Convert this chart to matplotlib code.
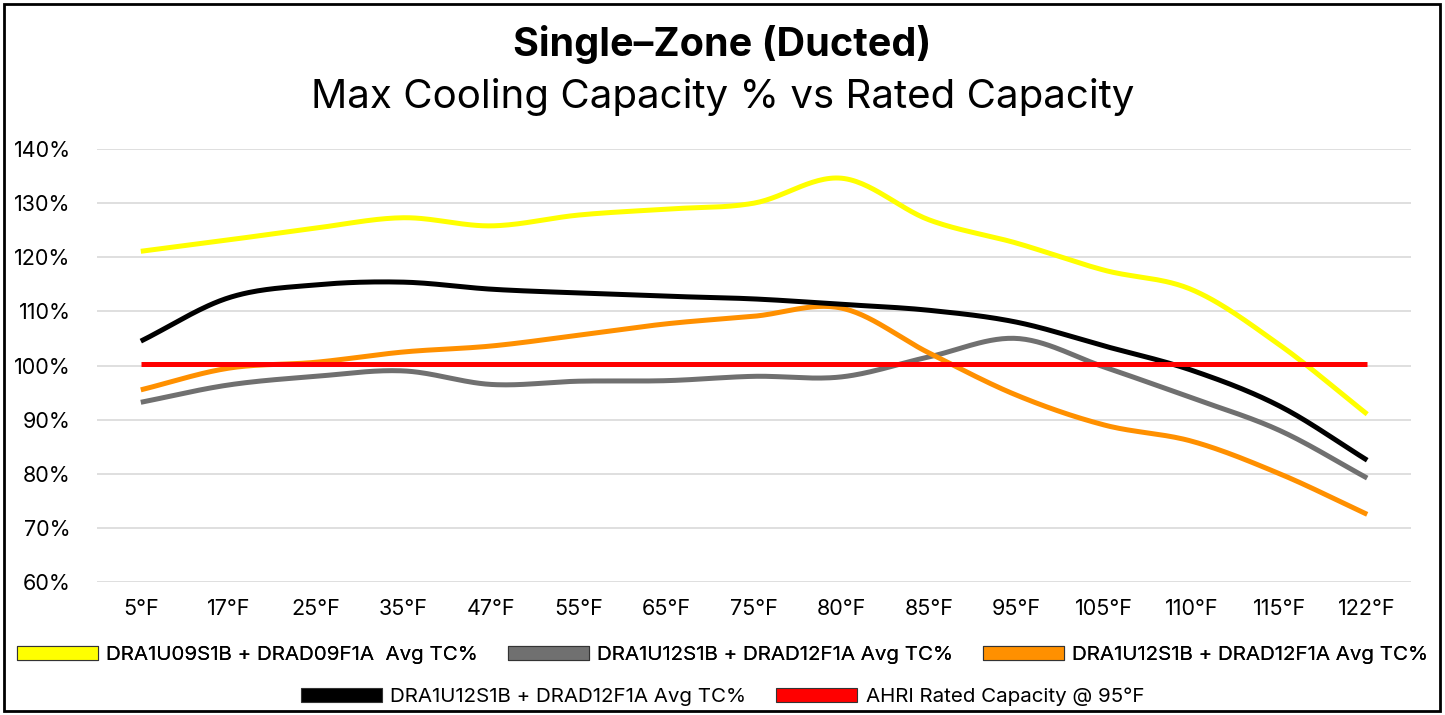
import matplotlib
matplotlib.use('Agg')
import matplotlib.pyplot as plt
import numpy as np
from matplotlib.patches import Patch, Rectangle

plt.rcParams['font.family'] = ['Inter', 'DejaVu Sans']

temps = ["5°F", "17°F", "25°F", "35°F", "47°F", "55°F", "65°F", "75°F",
         "80°F", "85°F", "95°F", "105°F", "110°F", "115°F", "122°F"]

yellow_09 = [121.1, 123.2, 125.4, 127.3, 125.8, 127.8, 128.9, 130.0,
             134.6, 126.9, 122.6, 117.6, 114.0, 103.8, 91.0]
gray_12 = [93.2, 96.4, 98.0, 99.0, 96.5, 97.1, 97.2, 98.0,
           97.9, 101.6, 105.0, 99.7, 94.0, 88.0, 79.2]
orange_12 = [95.5, 99.5, 100.6, 102.5, 103.6, 105.6, 107.7, 109.1,
             110.6, 102.3, 94.5, 89.0, 86.0, 80.0, 72.5]
black_12 = [104.5, 112.5, 114.9, 115.4, 114.1, 113.4, 112.8, 112.3,
            111.3, 110.2, 108.0, 103.6, 99.1, 92.5, 82.5]
ahri = [100.3] * len(temps)

labels = ["DRA1U09S1B + DRAD09F1A  Avg TC%",
          "DRA1U12S1B + DRAD12F1A Avg TC%",
          "DRA1U12S1B + DRAD12F1A Avg TC%",
          "DRA1U12S1B + DRAD12F1A Avg TC%",
          "AHRI Rated Capacity @ 95°F"]
colors = ["#FFFF00", "#707070", "#FF9000", "#000000", "#FF0000"]


def smooth(y, n=30):
    # catmull-rom style smoothing, like Excel's smoothed line
    y = np.asarray(y, dtype=float)
    x = np.arange(len(y))
    m = np.zeros_like(y)
    m[1:-1] = (y[2:] - y[:-2]) / 2
    m[0] = y[1] - y[0]
    m[-1] = y[-1] - y[-2]
    xs, ys = [], []
    for i in range(len(y) - 1):
        t = np.linspace(0, 1, n, endpoint=False)
        h00 = 2 * t**3 - 3 * t**2 + 1
        h10 = t**3 - 2 * t**2 + t
        h01 = -2 * t**3 + 3 * t**2
        h11 = t**3 - t**2
        xs.append(x[i] + t)
        ys.append(h00 * y[i] + h10 * m[i] + h01 * y[i + 1] + h11 * m[i + 1])
    xs.append([x[-1]])
    ys.append([y[-1]])
    return np.concatenate(xs), np.concatenate(ys)


fig = plt.figure(figsize=(14.45, 7.15), dpi=100)
ax = fig.add_axes([97 / 1445, 1 - 582 / 715, (1411 - 97) / 1445, (582 - 149) / 715])

series = [yellow_09, gray_12, orange_12, black_12, ahri]
for vals, col in zip(series, colors):
    xs, ys = smooth(vals)
    ax.plot(xs, ys, color=col, linewidth=3.6, solid_capstyle='butt', zorder=3)

ax.set_xlim(-0.5, len(temps) - 0.5)
ax.set_ylim(60, 140)
ax.set_yticks(np.arange(60, 141, 10))
ax.set_yticklabels(["{}%".format(v) for v in range(60, 141, 10)], fontsize=15.5)
ax.set_xticks(range(len(temps)))
ax.set_xticklabels(temps, fontsize=15.5)
ax.tick_params(axis='x', length=0, pad=12)
ax.tick_params(axis='y', length=0, pad=19)
ax.grid(axis='y', color='#D9D9D9', linewidth=1.2)
for s in ax.spines.values():
    s.set_visible(False)

fig.text(0.5, 1 - 45 / 715, "Single–Zone (Ducted)", ha='center', va='center',
         fontsize=28.5, fontweight='bold')
fig.text(0.5, 1 - 97 / 715, "Max Cooling Capacity % vs Rated Capacity", ha='center',
         va='center', fontsize=29)

handles = [Patch(facecolor=c, edgecolor='#333333', linewidth=0.8) for c in colors]
leg_kw = dict(frameon=False, fontsize=14.8, handlelength=3.95, handleheight=0.65,
              handletextpad=0.4, columnspacing=1.45, loc='center')
leg1 = fig.legend(handles[:3], labels[:3], ncol=3,
                  bbox_to_anchor=(0.5, 1 - 655 / 715), **leg_kw)
fig.add_artist(leg1)
fig.legend(handles[3:], labels[3:], ncol=2,
           bbox_to_anchor=(0.5, 1 - 697 / 715), **leg_kw)

fig.patches.append(Rectangle((4 / 1445, 4 / 715), 1436 / 1445, 707 / 715,
                             transform=fig.transFigure, fill=False,
                             edgecolor='black', linewidth=2))

fig.savefig("out.png", dpi=100)
plt.close(fig)
